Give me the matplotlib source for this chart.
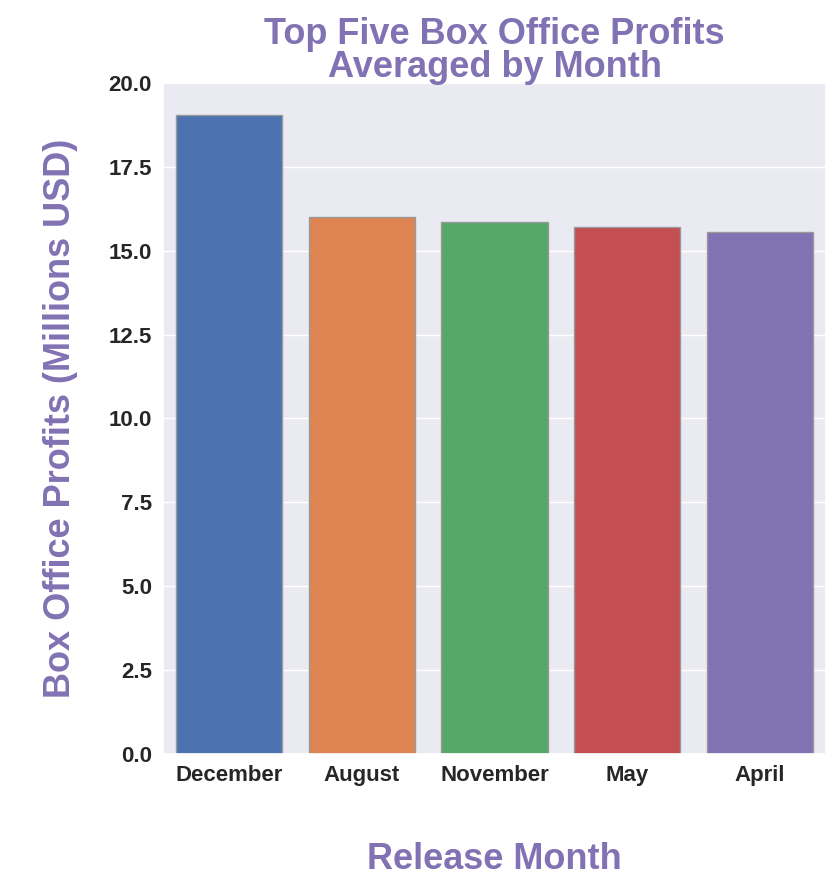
import matplotlib
matplotlib.use("Agg")
import matplotlib.pyplot as plt
import seaborn as sns

months = ["December", "August", "November", "May", "April"]
profits = [19.05, 16.02, 15.85, 15.72, 15.55]

sns.set_theme(style="darkgrid")
plt.rcParams['font.family'] = ['Liberation Sans', 'DejaVu Sans']
colors = sns.color_palette("deep", 5)
purple = "#8172b3"

fig = plt.figure(figsize=(8.32, 8.9), dpi=100)
ax = fig.add_axes([163/832, 1-754/890, (826-163)/832, (754-83)/890])
ax.bar(range(len(months)), profits, width=0.8, color=colors, edgecolor="#999999", linewidth=1)
ax.set_xticks(range(len(months)))
ax.set_xticklabels(months)
ax.set_xlim(-0.5, 4.5)
ax.set_ylim(0, 20)
ax.set_yticks([0, 2.5, 5, 7.5, 10, 12.5, 15, 17.5, 20])
ax.set_yticklabels([f"{v:.1f}" for v in [0, 2.5, 5, 7.5, 10, 12.5, 15, 17.5, 20]])
ax.tick_params(axis='both', labelsize=16, pad=2)
for t in ax.get_xticklabels() + ax.get_yticklabels():
    t.set_fontweight('bold')
    t.set_color('#262626')
ax.grid(axis='x', visible=False)
ax.set_title("Top Five Box Office Profits\nAveraged by Month", fontsize=26, fontweight='bold', color=purple, pad=4, linespacing=0.95)
ax.set_xlabel("Release Month", fontsize=26, fontweight='bold', color=purple, labelpad=40)
ax.set_ylabel("Box Office Profits (Millions USD)", fontsize=26, fontweight='bold', color=purple, labelpad=22)
fig.savefig("out.png", dpi=100)
